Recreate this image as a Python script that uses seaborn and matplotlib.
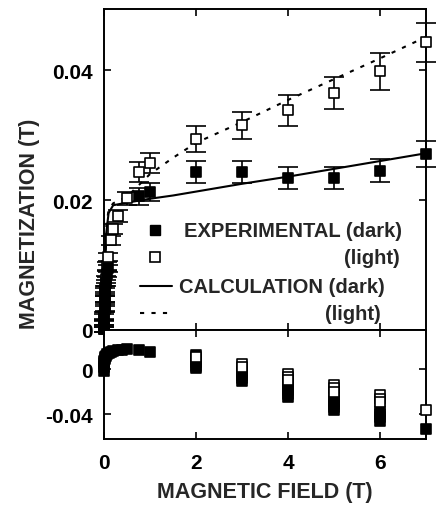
import numpy as np
import pandas as pd
import matplotlib
matplotlib.use("Agg")
import matplotlib.pyplot as plt
import seaborn as sns

# --- data ---
# top panel: experimental magnetization (T) vs field (T)
dark_x = [0.0, 0.005, 0.01, 0.015, 0.02, 0.03, 0.04, 0.06, 0.09, 0.75, 1.0, 2, 3, 4, 5, 6, 7]
dark_y = [0.0002, 0.001, 0.0022, 0.0035, 0.0048, 0.006, 0.0072, 0.0086, 0.0095,
          0.0206, 0.0212, 0.0243, 0.0243, 0.0234, 0.0234, 0.0245, 0.0271]
dark_err = [0.0005, 0.0005, 0.0005, 0.0005, 0.0005, 0.0005, 0.0005, 0.0005, 0.0005,
            0.0013, 0.0014, 0.0017, 0.0017, 0.0017, 0.0017, 0.0018, 0.002]

light_x = [0.0, 0.005, 0.01, 0.015, 0.02, 0.03, 0.04, 0.06, 0.09, 0.15, 0.2, 0.3, 0.5,
           0.75, 1.0, 2, 3, 4, 5, 6, 7]
light_y = [0.0002, 0.0009, 0.002, 0.0032, 0.0048, 0.0063, 0.0078, 0.0098, 0.0112, 0.0138,
           0.0155, 0.0175, 0.0203, 0.0243, 0.0257, 0.0294, 0.0315, 0.0338, 0.0365, 0.0398, 0.0443]
light_err = [0.0005, 0.0005, 0.0005, 0.0005, 0.0005, 0.0005, 0.0005, 0.0006, 0.0006, 0.0007,
             0.0008, 0.0009, 0.001, 0.0016, 0.0015, 0.002, 0.0021, 0.0024, 0.0025, 0.0029, 0.003]

# calculations
calc_x = [0.0, 0.02, 0.05, 0.1, 0.2, 0.5, 1.0, 1.5, 2, 3, 4, 5, 6, 7]
calc_dark = [0.0, 0.008, 0.015, 0.018, 0.0192, 0.0196, 0.0202, 0.0207, 0.0213, 0.0225,
             0.0236, 0.0248, 0.026, 0.0272]
calc_light = [0.0, 0.009, 0.016, 0.0185, 0.0195, 0.0205, 0.0240, 0.0265, 0.0288, 0.032,
              0.0354, 0.0386, 0.0418, 0.0451]

# bottom panel
bot_dark_x = [0.0, 0.0, 0.005, 0.01, 0.02, 0.03, 0.05, 0.07, 0.1, 0.15, 0.2, 0.3, 0.4, 0.5,
              0.75, 1.0,
              2, 2, 2, 2, 2, 3, 3, 3, 3, 4, 4, 4, 4, 4, 5, 5, 5, 5, 5, 6, 6, 6, 6, 7]
bot_dark_y = [-0.002, 0.002, 0.005, 0.007, 0.009, 0.0105, 0.012, 0.0135, 0.0145, 0.0155,
              0.016, 0.0167, 0.0172, 0.0175, 0.0169, 0.0151,
              0.0125, 0.009, 0.006, 0.003, 0.0005, -0.0027, -0.0055, -0.008, -0.0107,
              -0.013, -0.016, -0.019, -0.022, -0.025,
              -0.025, -0.028, -0.031, -0.034, -0.0365,
              -0.037, -0.040, -0.043, -0.0465, -0.0533]
bot_light_x = [2, 3, 3, 4, 4, 4, 5, 5, 5, 6, 6, 6, 7]
bot_light_y = [0.0105, 0.0048, 0.0022, -0.0044, -0.0068, -0.0095, -0.0142, -0.017,
               -0.0205, -0.023, -0.0262, -0.0295, -0.0364]

sns.set_style("ticks")
plt.rcParams['font.family'] = ['Liberation Sans', 'DejaVu Sans']
plt.rcParams['font.weight'] = 'bold'
plt.rcParams['axes.labelweight'] = 'bold'

W, H = 436, 506
fig = plt.figure(figsize=(W / 100, H / 100), dpi=100)
ax1 = fig.add_axes([104 / W, 175 / H, 322 / W, 321 / H])
ax2 = fig.add_axes([104 / W, 66 / H, 322 / W, 109 / H], sharex=ax1)

ms = 7.5
# --- top panel ---
ax1.errorbar(dark_x, dark_y, yerr=dark_err, fmt='none', ecolor='k', elinewidth=1.2,
             capsize=7, capthick=1.2, clip_on=False)
ax1.errorbar(light_x, light_y, yerr=light_err, fmt='none', ecolor='k', elinewidth=1.2,
             capsize=7, capthick=1.2, clip_on=False)
sns.lineplot(x=calc_x, y=calc_dark, ax=ax1, color='k', lw=1.5)
sns.lineplot(x=calc_x, y=calc_light, ax=ax1, color='k', lw=1.5, linestyle=(0, (2, 3.5)))
sns.scatterplot(x=light_x, y=light_y, ax=ax1, marker='s', s=ms ** 2, color='white',
                edgecolor='k', linewidth=1.2, clip_on=False, zorder=3)
sns.scatterplot(x=dark_x, y=dark_y, ax=ax1, marker='s', s=ms ** 2, color='k',
                edgecolor='k', linewidth=1.2, clip_on=False, zorder=4)

ax1.set_xlim(0, 7)
ax1.set_ylim(0, 0.0494)
ax1.set_yticks([0, 0.02, 0.04])
ax1.set_yticklabels(['0', '0.02', '0.04'])
ax1.tick_params(axis='x', labelbottom=False)

# legend drawn by hand to keep the right-aligned "(light)" rows
tr = ax1.transAxes
ax1.plot([0.158], [0.311], 's', ms=ms, color='k', transform=tr)
ax1.plot([0.158], [0.227], 's', ms=ms, mfc='white', mec='k', mew=1.2, transform=tr)
ax1.plot([0.112, 0.211], [0.137, 0.137], color='k', lw=1.5, transform=tr)
ax1.plot([0.112, 0.211], [0.053, 0.053], color='k', lw=1.5, ls=(0, (2, 3.5)), transform=tr)
fs_leg = 14.5
ax1.text(0.925, 0.311, 'EXPERIMENTAL (dark)', transform=tr, ha='right', va='center',
         fontsize=fs_leg, fontweight='bold')
ax1.text(0.92, 0.225, '(light)', transform=tr, ha='right', va='center',
         fontsize=fs_leg, fontweight='bold')
ax1.text(0.873, 0.135, 'CALCULATION (dark)', transform=tr, ha='right', va='center',
         fontsize=fs_leg, fontweight='bold')
ax1.text(0.86, 0.05, '(light)', transform=tr, ha='right', va='center',
         fontsize=fs_leg, fontweight='bold')

# --- bottom panel ---
sns.scatterplot(x=bot_dark_x, y=bot_dark_y, ax=ax2, marker='s', s=ms ** 2, color='k',
                edgecolor='k', linewidth=1.2, clip_on=False, zorder=3)
sns.scatterplot(x=bot_light_x, y=bot_light_y, ax=ax2, marker='s', s=ms ** 2, color='white',
                edgecolor='k', linewidth=1.2, clip_on=False, zorder=4)
ax2.set_ylim(-0.0622, 0.0347)
ax2.set_yticks([-0.04, 0])
ax2.set_yticklabels(['-0.04', '0'])
ax2.set_xticks([0, 2, 4, 6])
ax2.set_xticklabels(['0', '2', '4', '6'])

for ax in (ax1, ax2):
    for sp in ax.spines.values():
        sp.set_visible(True)
        sp.set_linewidth(1.4)
        sp.set_color('k')
    ax.tick_params(direction='in', length=5, width=1.2, top=True, right=True,
                   labelsize=15, colors='k')
    ax.tick_params(axis='y', pad=8)
    ax.tick_params(axis='x', pad=10)
    ax.set_xlabel('')
    ax.set_ylabel('')
    for lab in ax.get_xticklabels() + ax.get_yticklabels():
        lab.set_fontweight('bold')

fig.text(0.5 * (104 + 426) / W, 1 - 493 / H, 'MAGNETIC FIELD (T)', ha='center',
         va='center', fontsize=15.5, fontweight='bold')
fig.text(29 / W, 1 - 224 / H, 'MAGNETIZATION (T)', ha='center', va='center',
         rotation=90, fontsize=15.5, fontweight='bold')

fig.savefig('out.png', dpi=100, facecolor='white')
